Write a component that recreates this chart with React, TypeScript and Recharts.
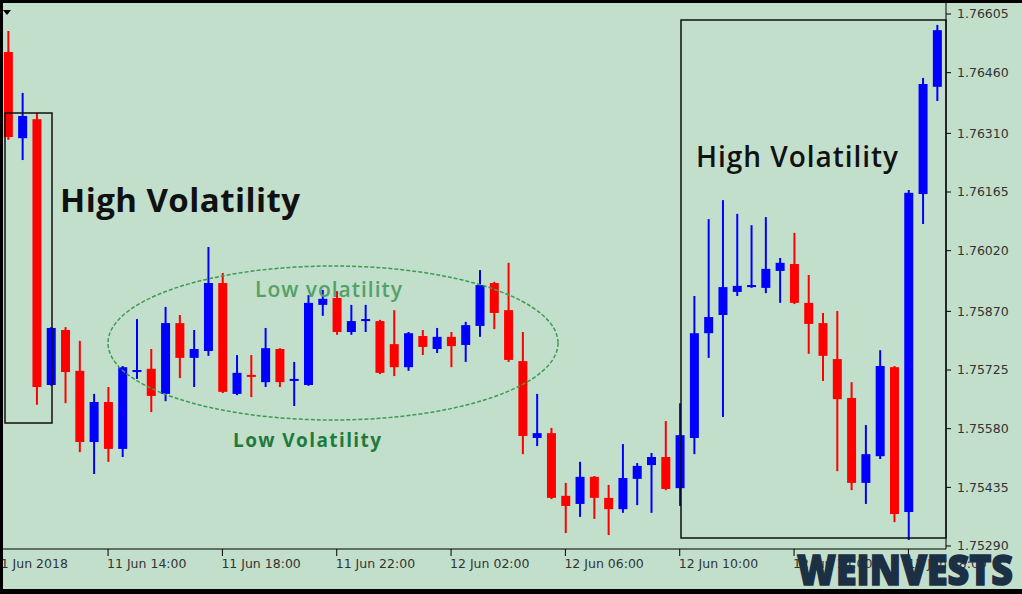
import { ComposedChart, Bar, XAxis, YAxis } from "recharts";

// EURUSD-ish M30 candles, 11 Jun 10:30 -> 12 Jun 19:00
const open = [
  1.76511, 1.76298, 1.76345, 1.75688, 1.75824, 1.75723, 1.75547, 1.75646, 1.7553, 1.7572,
  1.75728, 1.75666, 1.75841, 1.75755, 1.75772, 1.7594, 1.75666, 1.75713, 1.75695, 1.75777,
  1.75698, 1.75688, 1.75886, 1.75903, 1.75819, 1.75846, 1.75846, 1.75789, 1.75732, 1.75809,
  1.75777, 1.75807, 1.75787, 1.75834, 1.7594, 1.75873, 1.75747, 1.75557, 1.75569, 1.75414,
  1.75394, 1.75461, 1.75409, 1.75381, 1.75456, 1.7549, 1.7551, 1.75433, 1.75557, 1.75816,
  1.75861, 1.75918, 1.7593, 1.75928, 1.7597, 1.75987, 1.75891, 1.75841, 1.75752, 1.75656,
  1.75446, 1.75512, 1.75732, 1.75374, 1.7616, 1.76425,
];
const high = [
  1.76563, 1.7641, 1.7636, 1.75831, 1.75831, 1.75797, 1.75666, 1.75683, 1.75735, 1.75851,
  1.75777, 1.75881, 1.75861, 1.75824, 1.76029, 1.75965, 1.75762, 1.75762, 1.75829, 1.75779,
  1.75745, 1.7591, 1.75923, 1.7592, 1.75886, 1.75886, 1.75849, 1.75873, 1.75819, 1.75824,
  1.75829, 1.75819, 1.75844, 1.75972, 1.75943, 1.7599, 1.75819, 1.75666, 1.75582, 1.75446,
  1.75498, 1.75463, 1.75441, 1.75542, 1.75495, 1.7552, 1.75599, 1.75643, 1.75908, 1.76098,
  1.76145, 1.76111, 1.76083, 1.76103, 1.76002, 1.76064, 1.7596, 1.75866, 1.75871, 1.75695,
  1.75589, 1.75774, 1.75735, 1.7617, 1.76447, 1.76578,
];
const low = [
  1.76294, 1.76244, 1.75639, 1.75686, 1.75643, 1.75522, 1.75468, 1.75498, 1.7551, 1.75703,
  1.75621, 1.75648, 1.75705, 1.75683, 1.7576, 1.75668, 1.75663, 1.75658, 1.75683, 1.75683,
  1.75636, 1.75686, 1.75859, 1.75812, 1.75812, 1.75819, 1.75715, 1.7571, 1.75723, 1.75762,
  1.75767, 1.75732, 1.75745, 1.75807, 1.75826, 1.75745, 1.75517, 1.75537, 1.75406, 1.75322,
  1.75362, 1.75357, 1.75317, 1.75372, 1.75391, 1.75372, 1.75428, 1.75389, 1.75517, 1.75755,
  1.75609, 1.75908, 1.75928, 1.75915, 1.75891, 1.75888, 1.75765, 1.75698, 1.75475, 1.75428,
  1.75394, 1.75505, 1.75349, 1.75305, 1.76086, 1.7639,
];
const close = [
  1.76301, 1.76353, 1.75683, 1.75829, 1.7572, 1.75547, 1.75646, 1.7553, 1.75732, 1.75725,
  1.75661, 1.75841, 1.75755, 1.75777, 1.7594, 1.75671, 1.75718, 1.75708, 1.75779, 1.75695,
  1.75703, 1.75891, 1.75901, 1.75819, 1.75846, 1.75851, 1.75718, 1.75732, 1.75816, 1.75782,
  1.75807, 1.75784, 1.75836, 1.75935, 1.75866, 1.7575, 1.75562, 1.75569, 1.75409, 1.75389,
  1.75461, 1.75409, 1.75381, 1.75458, 1.75488, 1.7551, 1.75431, 1.75564, 1.75816, 1.75856,
  1.7593, 1.75933, 1.75935, 1.75975, 1.7599, 1.75891, 1.75839, 1.7576, 1.75653, 1.75446,
  1.75517, 1.75735, 1.75369, 1.76163, 1.76432, 1.76565,
];

const timeTickIndex = [-1, 7, 15, 23, 31, 39, 47, 55, 63];
const timeTickLabels = [
  "11 Jun 2018", "11 Jun 14:00", "11 Jun 18:00", "11 Jun 22:00", "12 Jun 02:00",
  "12 Jun 06:00", "12 Jun 10:00", "12 Jun 14:00", "12 Jun 18:00",
];
const priceTicks = [
  1.7529, 1.75435, 1.7558, 1.75725, 1.7587, 1.7602, 1.76165, 1.7631, 1.7646, 1.76605,
];

const data = open.map((o, i) => ({
  i,
  open: o,
  high: high[i],
  low: low[i],
  close: close[i],
  range: [low[i], high[i]],
}));

const UP = "#0000ff";
const DOWN = "#ff0000";

const Candle = (props: any) => {
  const { x, y, width, height, payload } = props;
  if (!payload) return null;
  const { open: o, close: c, high: h, low: l } = payload;
  const ppu = height / (h - l || 1e-9);
  const cx = x + width / 2;
  const yO = y + (h - o) * ppu;
  const yC = y + (h - c) * ppu;
  const top = Math.min(yO, yC);
  const bh = Math.max(Math.abs(yO - yC), 2);
  const color = c >= o ? UP : DOWN;
  return (
    <g>
      <line x1={cx} x2={cx} y1={y} y2={y + height} stroke={color} strokeWidth={2} />
      <rect x={x} y={top} width={width} height={bh} fill={color} />
    </g>
  );
};

const TimeTick = (props: any) => {
  const { x, y, payload } = props;
  const idx = timeTickIndex.indexOf(payload.value);
  return (
    <text
      x={x - 1}
      y={y + 10}
      textAnchor="start"
      fill="#333"
      fontSize={12.5}
      fontFamily="DejaVu Sans"
    >
      {timeTickLabels[idx]}
    </text>
  );
};

export default function App() {
  return (
    <div
      style={{
        position: "relative",
        width: 1022,
        height: 594,
        background: "#c2dfcc",
        overflow: "hidden",
      }}
    >
      <style>{"body{margin:0}"}</style>
      <ComposedChart
        width={1022}
        height={594}
        data={data}
        margin={{ top: 3, right: 0, bottom: 0, left: 1 }}
        barSize={9}
      >
        <XAxis
          dataKey="i"
          type="number"
          domain={[-0.49, 65.63]}
          allowDataOverflow
          ticks={timeTickIndex}
          interval={0}
          height={45}
          tickSize={7}
          tickMargin={2}
          axisLine={{ stroke: "#000" }}
          tickLine={{ stroke: "#000" }}
          tick={<TimeTick />}
        />
        <YAxis
          orientation="right"
          type="number"
          domain={[1.752826, 1.766322]}
          allowDataOverflow
          ticks={priceTicks}
          interval={0}
          width={76}
          tickSize={5}
          tickMargin={6}
          axisLine={{ stroke: "#000" }}
          tickLine={{ stroke: "#000" }}
          tickFormatter={(v: number) => v.toFixed(5)}
          tick={{ fill: "#333", fontSize: 12.5, fontFamily: "DejaVu Sans" }}
        />
        <Bar dataKey="range" shape={<Candle />} isAnimationActive={false} />
      </ComposedChart>

      <svg
        width={1022}
        height={594}
        style={{ position: "absolute", left: 0, top: 0, pointerEvents: "none" }}
      >
        <polygon points="3,10 11,10 7,15" fill="#000" />
        <rect x={5} y={113} width={47} height={310} fill="none" stroke="#111" strokeWidth={1.5} />
        <rect x={681} y={20} width={265} height={518} fill="none" stroke="#111" strokeWidth={1.5} />
        <ellipse
          cx={333}
          cy={343}
          rx={225}
          ry={77}
          fill="none"
          stroke="#3e9b52"
          strokeWidth={1.5}
          strokeDasharray="4 2"
        />
        <text
          x={60}
          y={212}
          fontFamily="Open Sans"
          fontWeight={700}
          fontSize={33}
          fill="#111"
          textLength={240}
        >
          High Volatility
        </text>
        <text
          x={696}
          y={167}
          fontFamily="Open Sans"
          fontWeight={600}
          fontSize={28}
          fill="#111"
          textLength={202}
        >
          High Volatility
        </text>
        <text
          x={255}
          y={297}
          fontFamily="Open Sans"
          fontWeight={600}
          fontSize={21}
          fill="#52a267"
          textLength={147}
        >
          Low volatility
        </text>
        <text
          x={233}
          y={447}
          fontFamily="Open Sans"
          fontWeight={700}
          fontSize={19}
          fill="#1f7a3c"
          textLength={148}
        >
          Low Volatility
        </text>
        <text
          x={797}
          y={585}
          fontFamily="Open Sans"
          fontWeight={800}
          fontSize={43}
          fill="#1b3045"
          stroke="#1b3045"
          strokeWidth={1.6}
          textLength={216}
          lengthAdjust="spacingAndGlyphs"
        >
          WEINVESTS
        </text>
      </svg>
      <div
        style={{
          position: "absolute",
          inset: 0,
          borderTop: "3px solid #000",
          borderLeft: "3px solid #000",
          borderBottom: "5px solid #000",
          pointerEvents: "none",
        }}
      />
    </div>
  );
}
